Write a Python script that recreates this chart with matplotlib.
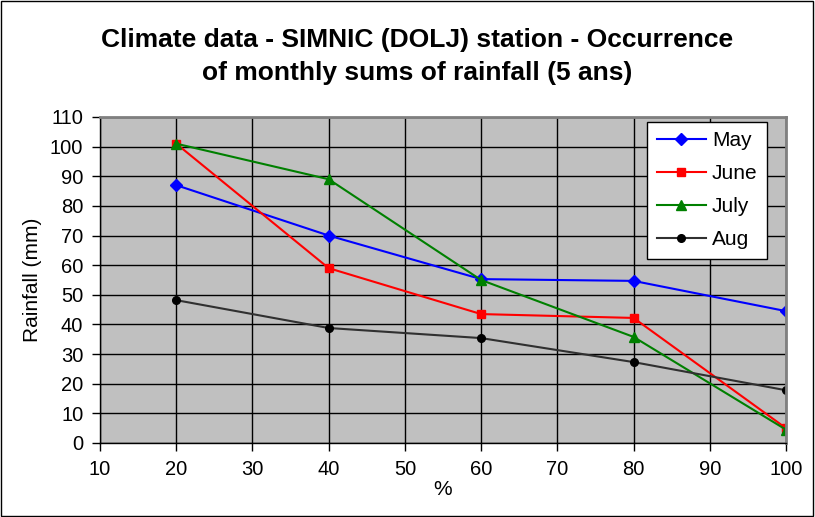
import numpy as np
import matplotlib
matplotlib.use("Agg")
from matplotlib import pyplot as plt

plt.rcParams['font.family'] = ['Liberation Sans', 'DejaVu Sans']

pct = [20, 40, 60, 80, 100]
may = [87, 70, 55.3, 54.7, 44.5]
june = [101, 59, 43.5, 42.2, 5]
july = [101, 89, 55, 35.8, 4.5]
aug = [48.2, 38.8, 35.4, 27.3, 17.8]

fig = plt.figure(figsize=(8.15, 5.17), dpi=100)
ax = fig.add_axes([100 / 815, 1 - 443 / 517, 686 / 815, 326 / 517])
ax.set_facecolor('#c0c0c0')

ax.plot(pct, may, color='blue', marker='D', markersize=6, lw=1.5, label='May')
ax.plot(pct, june, color='red', marker='s', markersize=6, lw=1.5, label='June')
ax.plot(pct, july, color='green', marker='^', markersize=7, lw=1.5, label='July')
ax.plot(pct, aug, color='#303030', marker='o', markersize=5.5, lw=1.5,
        markerfacecolor='black', markeredgecolor='black', label='Aug')

ax.set_xlim(10, 100)
ax.set_ylim(0, 110)
ax.set_xticks(np.arange(10, 101, 10))
ax.set_yticks(np.arange(0, 111, 10))
ax.grid(True, color='black', lw=1)
ax.set_axisbelow(True)
ax.tick_params(labelsize=14.5, direction='out', length=6, width=1, colors='black', pad=6)
for s in ['top', 'right']:
    ax.spines[s].set_color('#808080')
    ax.spines[s].set_linewidth(2)
for s in ['left', 'bottom']:
    ax.spines[s].set_color('black')
    ax.spines[s].set_linewidth(1)

ax.set_xlabel('%', fontsize=15, labelpad=1)
ax.set_ylabel('Rainfall (mm)', fontsize=15, labelpad=6)

leg = ax.legend(loc='upper right', bbox_to_anchor=(0.972, 0.986), fontsize=15,
                frameon=True, fancybox=False, edgecolor='black', framealpha=1,
                borderpad=0.45, labelspacing=0.68, handlelength=2.35, handletextpad=0.3,
                borderaxespad=0)
leg.get_frame().set_linewidth(1)

fig.text(0.512, 0.891, 'Climate data - SIMNIC (DOLJ) station - Occurrence\nof monthly sums of rainfall (5 ans)',
         ha='center', va='center', fontsize=19, fontweight='bold', linespacing=1.5)

fig.patches.append(plt.Rectangle((0.001, 0.001), 0.997, 0.997, transform=fig.transFigure,
                                 fill=False, edgecolor='black', lw=1))

fig.savefig('out.png', dpi=100)
